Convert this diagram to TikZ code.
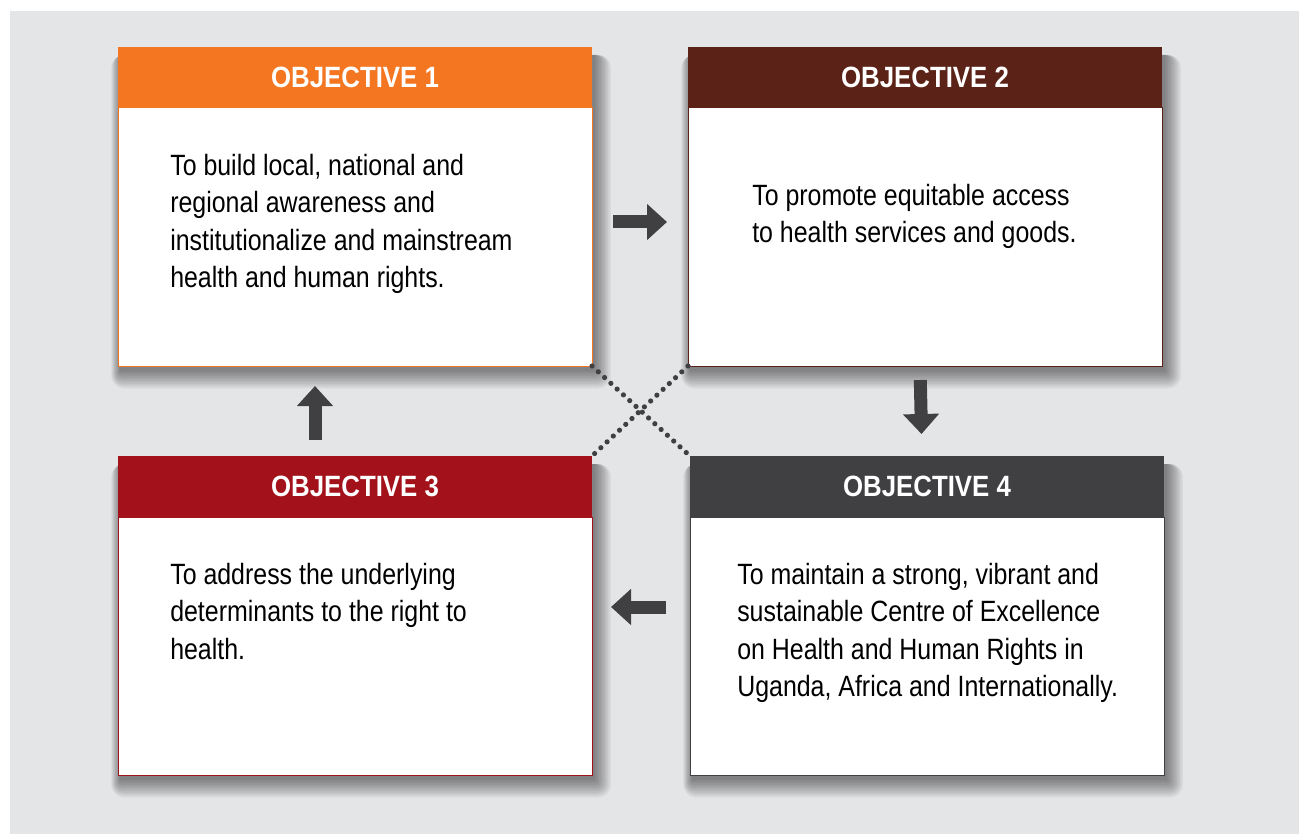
\documentclass[tikz,border=0pt]{standalone}
\usepackage{fontspec}
\setmainfont{Liberation Sans}[FakeStretch=0.85]
\newfontfamily\headfont{Liberation Sans}[FakeStretch=0.88]
\usetikzlibrary{positioning,arrows.meta}
\definecolor{bggray}{HTML}{E4E5E7}
\definecolor{objorange}{HTML}{F47621}
\definecolor{objbrown}{HTML}{5B2318}
\definecolor{objred}{HTML}{A3121A}
\definecolor{objdark}{HTML}{404042}
\pgfdeclarelayer{bgfill}
\pgfdeclarelayer{background}
\pgfsetlayers{bgfill,background,main}
\tikzset{
  objhead/.style={fill=#1, text=white, minimum width=355.5pt, minimum height=45.75pt,
    inner sep=0pt, outer sep=0pt, font=\headfont\bfseries\fontsize{22}{26}\selectfont},
  objbody/.style={draw=#1, line width=0.75pt, fill=white, minimum width=355.5pt,
    minimum height=193.5pt, inner sep=0pt, outer sep=0pt},
  objtext/.style={align=left, inner sep=0pt, font=\fontsize{22}{28}\selectfont},
  blockarrow/.style={objdark, line width=9.75pt, -{Triangle[width=26.25pt,length=15pt]}},
  dotline/.style={objdark, line width=3.9pt, line cap=round, dash pattern=on 0pt off 6.4pt}
}
\begin{document}
\begin{tikzpicture}[x=0.75pt,y=0.75pt,yscale=-1,xscale=1]
\useasboundingbox (0,0) rectangle (1299,834);

%Objective boxes
\node[objhead=objorange, anchor=north west] (o1head) at (118,47) {OBJECTIVE 1};
\node[objbody=objorange, below=0pt of o1head] (o1body) {};
\node[objhead=objbrown, anchor=north west] (o2head) at (688,47) {OBJECTIVE 2};
\node[objbody=objbrown, below=0pt of o2head] (o2body) {};
\node[objhead=objred, anchor=north west] (o3head) at (118,456) {OBJECTIVE 3};
\node[objbody=objred, below=0pt of o3head] (o3body) {};
\node[objhead=objdark, anchor=north west] (o4head) at (690,456) {OBJECTIVE 4};
\node[objbody=objdark, below=0pt of o4head] (o4body) {};

%Texts
\node[objtext, below right=34.5pt and 39pt of o1body.north west] (o1text)
  {To build local, national and\\regional awareness and\\institutionalize and mainstream\\health and human rights.};
\node[objtext, below right=57pt and 48pt of o2body.north west] (o2text)
  {To promote equitable access\\to health services and goods.};
\node[objtext, below right=34.5pt and 39pt of o3body.north west] (o3text)
  {To address the underlying\\determinants to the right to\\health.};
\node[objtext, below right=34.5pt and 35.25pt of o4body.north west] (o4text)
  {To maintain a strong, vibrant and\\sustainable Centre of Excellence\\on Health and Human Rights in\\Uganda, Africa and Internationally.};

%Block arrows
\draw[blockarrow, shorten <=15.75pt, shorten >=15.75pt]
  ([yshift=-11.25pt]o1body.east) -- ([yshift=-11.25pt]o2body.west);
\draw[blockarrow, shorten <=10.5pt, shorten >=16.5pt]
  ([xshift=-3.75pt]o2body.south) -- ([xshift=-3.75pt]o4head.north);
\draw[blockarrow, shorten <=18pt, shorten >=14.25pt]
  ([yshift=-29.25pt]o4body.west) -- ([yshift=-29.25pt]o3body.east);
\draw[blockarrow, shorten <=12pt, shorten >=15pt]
  ([xshift=-30pt]o3head.north) -- ([xshift=-30pt]o1body.south);

%Dotted lines
\draw[dotline] (o1body.south east) -- (o4head.north west);
\draw[dotline] (o2body.south west) -- (o3head.north east);

%Shadows and background
\begin{pgfonlayer}{background}
\foreach \b in {o1,o2,o3,o4}
  \foreach \i in {0,...,11}
    \fill[black, opacity=0.045, rounded corners=\i*0.9pt]
      ([xshift=1.5pt-\i*0.6pt, yshift=6pt]\b head.north west)
      rectangle ([xshift=2.25pt+\i*1.1pt, yshift=3.75pt+\i*1.2pt]\b body.south east);
\end{pgfonlayer}
\begin{pgfonlayer}{bgfill}
\fill[bggray] (10,11) rectangle (1299,834);
\end{pgfonlayer}
\end{tikzpicture}
\end{document}
